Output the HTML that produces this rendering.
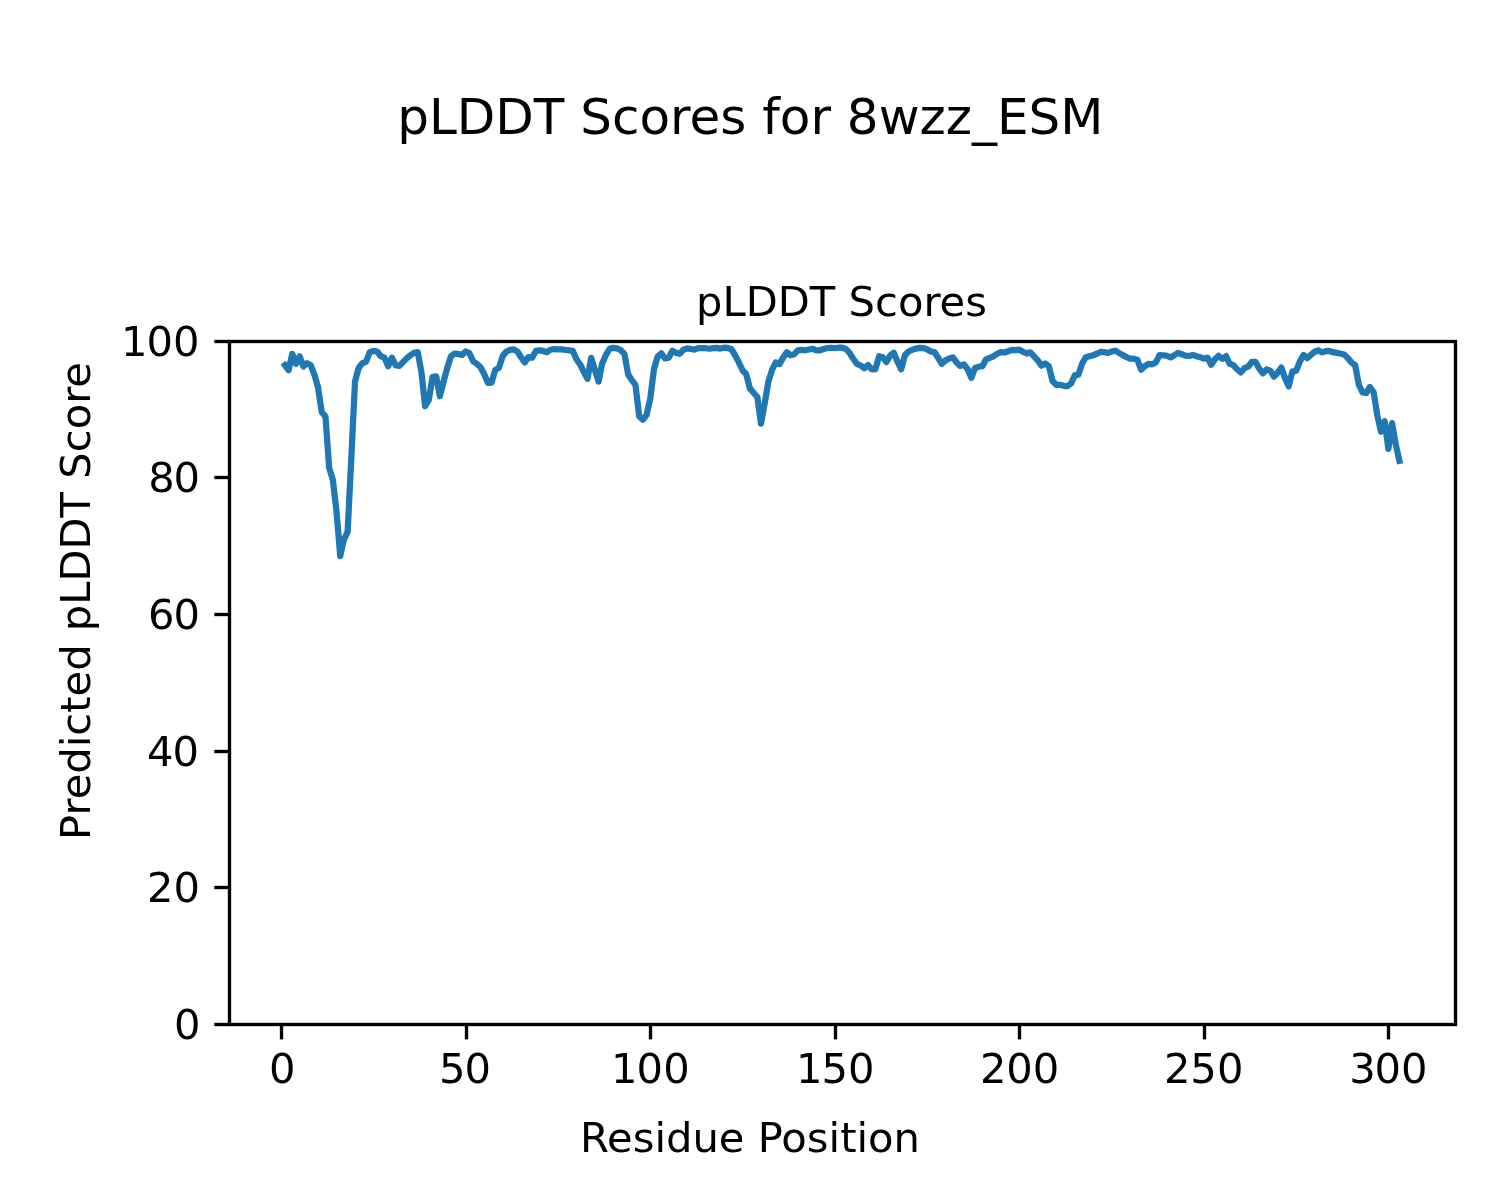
<!DOCTYPE html>
<html lang="en"><head><meta charset="utf-8"><title>pLDDT Scores for 8wzz_ESM</title>
<style>
html,body{margin:0;padding:0;background:#fff;}
body{width:1500px;height:1200px;overflow:hidden;}
svg{display:block;}
text{font-family:"DejaVu Sans","Liberation Sans",sans-serif;fill:#000;}
.t10{font-size:41.67px;}
.t12{font-size:50px;}
</style></head><body>
<svg width="1500" height="1200" viewBox="0 0 1500 1200">
<rect x="0" y="0" width="1500" height="1200" fill="#ffffff"/>

<g stroke="#000" stroke-width="3.333" fill="none">
<line x1="281.5" y1="1024.5" x2="281.5" y2="1039.4"/>
<line x1="466.5" y1="1024.5" x2="466.5" y2="1039.4"/>
<line x1="650.5" y1="1024.5" x2="650.5" y2="1039.4"/>
<line x1="835.5" y1="1024.5" x2="835.5" y2="1039.4"/>
<line x1="1019.5" y1="1024.5" x2="1019.5" y2="1039.4"/>
<line x1="1204.5" y1="1024.5" x2="1204.5" y2="1039.4"/>
<line x1="1388.5" y1="1024.5" x2="1388.5" y2="1039.4"/>
<line x1="229.5" y1="1024.5" x2="214.3" y2="1024.5"/>
<line x1="229.5" y1="887.5" x2="214.3" y2="887.5"/>
<line x1="229.5" y1="751.5" x2="214.3" y2="751.5"/>
<line x1="229.5" y1="614.5" x2="214.3" y2="614.5"/>
<line x1="229.5" y1="477.5" x2="214.3" y2="477.5"/>
<line x1="229.5" y1="341.5" x2="214.3" y2="341.5"/>
</g>
<g class="t10">
<text x="269.10" y="1082.7">0</text>
<text x="439.02 464.51" y="1082.7">50</text>
<text x="611.00 636.57 663.18" y="1082.7">100</text>
<text x="795.99 821.57 847.99" y="1082.7">150</text>
<text x="979.90 1006.31 1032.87" y="1082.7">200</text>
<text x="1163.88 1190.24 1216.97" y="1082.7">250</text>
<text x="1349.15 1374.55 1401.10" y="1082.7">300</text>
<text x="174.11" y="1039.1">0</text>
<text x="146.99 173.42" y="902.1">20</text>
<text x="147.11 172.52" y="766.1">40</text>
<text x="148.11 173.52" y="629.1">60</text>
<text x="148.13 173.60" y="492.1">80</text>
<text x="120.93 146.51 173.11" y="356.1">100</text>
</g>
<polyline points="284.88,365.15 288.57,370.28 292.26,353.89 295.95,363.79 299.64,356.28 303.33,366.52 307.02,363.11 310.71,365.15 314.41,374.72 318.10,387.69 321.79,412.28 325.48,416.38 329.17,467.95 332.86,479.90 336.55,512.00 340.24,556.05 343.93,539.32 347.62,531.81 351.31,458.04 355.00,381.55 358.69,367.89 362.38,363.11 366.07,361.74 369.76,352.18 373.45,350.81 377.15,351.50 380.84,356.28 384.53,357.64 388.22,366.18 391.91,357.64 395.60,365.15 399.29,365.84 402.98,362.08 406.67,358.33 410.36,355.25 414.05,352.86 417.74,352.18 421.43,371.99 425.12,406.13 428.81,399.99 432.50,377.11 436.20,376.42 439.89,396.23 443.58,381.55 447.27,367.89 450.96,356.28 454.65,353.54 458.34,353.89 462.03,354.91 465.72,351.50 469.41,353.20 473.10,361.26 476.79,363.79 480.48,367.20 484.17,374.03 487.86,382.91 491.55,382.57 495.24,369.94 498.94,367.89 502.63,356.28 506.32,351.50 510.01,349.79 513.70,349.45 517.39,351.50 521.08,357.23 524.77,362.42 528.46,357.10 532.15,357.64 535.84,350.95 539.53,350.33 543.22,350.95 546.91,352.18 550.60,349.72 554.29,349.04 557.99,349.31 561.68,349.45 565.37,349.92 569.06,350.27 572.75,350.81 576.44,359.28 580.13,364.47 583.82,371.99 587.51,378.81 591.20,357.85 594.89,369.94 598.58,381.55 602.27,363.24 605.96,354.91 609.65,348.76 613.34,347.88 617.03,348.35 620.73,350.13 624.42,353.89 628.11,374.24 631.80,380.18 635.49,384.83 639.18,416.24 642.87,419.66 646.56,415.01 650.25,398.76 653.94,369.25 657.63,356.62 661.32,353.34 665.01,358.46 668.70,357.64 672.39,350.81 676.08,352.86 679.77,353.75 683.47,349.72 687.16,348.35 690.85,348.97 694.54,349.72 698.23,348.22 701.92,348.01 705.61,348.22 709.30,348.76 712.99,348.08 716.68,347.88 720.37,348.56 724.06,347.74 727.75,347.94 731.44,349.24 735.13,355.25 738.82,362.42 742.51,370.28 746.21,374.24 749.90,388.38 753.59,392.75 757.28,396.78 760.97,423.62 764.66,403.74 768.35,381.75 772.04,369.94 775.73,362.42 779.42,364.13 783.11,357.64 786.80,352.18 790.49,355.25 794.18,354.23 797.87,350.27 801.56,349.92 805.26,350.27 808.95,349.45 812.64,348.76 816.33,350.27 820.02,350.27 823.71,348.97 827.40,348.08 831.09,347.74 834.78,348.22 838.47,347.74 842.16,347.74 845.85,348.97 849.54,352.86 853.23,358.73 856.92,363.79 860.61,365.50 864.30,368.23 868.00,365.15 871.69,369.25 875.38,369.25 879.07,356.28 882.76,357.23 886.45,362.08 890.14,355.59 893.83,352.86 897.52,361.74 901.21,369.25 904.90,355.25 908.59,351.50 912.28,349.72 915.97,348.56 919.66,347.88 923.35,348.08 927.04,349.24 930.74,351.50 934.43,352.04 938.12,357.78 941.81,363.79 945.50,360.37 949.19,358.53 952.88,357.37 956.57,362.42 960.26,365.84 963.95,364.47 967.64,369.25 971.33,377.86 975.02,367.89 978.71,366.79 982.40,366.18 986.09,359.28 989.79,357.78 993.48,356.28 997.17,353.75 1000.86,352.04 1004.55,352.52 1008.24,351.22 1011.93,349.92 1015.62,350.06 1019.31,349.72 1023.00,351.77 1026.69,353.54 1030.38,352.31 1034.07,356.28 1037.76,360.37 1041.45,365.63 1045.14,363.38 1048.83,366.25 1052.53,380.86 1056.22,384.96 1059.91,384.83 1063.60,385.78 1067.29,386.19 1070.98,383.73 1074.67,375.40 1078.36,374.72 1082.05,363.79 1085.74,357.23 1089.43,356.28 1093.12,355.32 1096.81,353.75 1100.50,351.97 1104.19,352.04 1107.88,352.93 1111.58,351.56 1115.27,350.68 1118.96,352.86 1122.65,354.91 1126.34,356.96 1130.03,358.73 1133.72,358.73 1137.41,359.69 1141.10,369.66 1144.79,366.25 1148.48,363.93 1152.17,364.27 1155.86,362.42 1159.55,355.05 1163.24,355.25 1166.93,355.93 1170.62,357.44 1174.32,355.25 1178.01,352.86 1181.70,354.23 1185.39,355.59 1189.08,355.93 1192.77,354.91 1196.46,356.28 1200.15,357.23 1203.84,358.73 1207.53,357.64 1211.22,364.81 1214.91,359.28 1218.60,355.87 1222.29,358.87 1225.98,356.14 1229.67,363.79 1233.36,365.15 1237.06,369.25 1240.75,372.46 1244.44,368.23 1248.13,366.73 1251.82,361.94 1255.51,361.94 1259.20,368.57 1262.89,373.35 1266.58,369.39 1270.27,370.62 1273.96,376.63 1277.65,372.74 1281.34,367.55 1285.03,378.13 1288.72,386.33 1292.41,371.30 1296.11,370.96 1299.80,361.74 1303.49,354.91 1307.18,358.12 1310.87,354.91 1314.56,351.77 1318.25,350.33 1321.94,352.38 1325.63,351.22 1329.32,350.95 1333.01,352.18 1336.70,352.86 1340.39,353.54 1344.08,354.57 1347.77,357.98 1351.46,362.56 1355.15,365.15 1358.85,384.76 1362.54,392.34 1366.23,393.02 1369.92,387.01 1373.61,392.34 1377.30,415.36 1380.99,431.75 1384.68,421.16 1388.37,448.82 1392.06,423.21 1395.75,444.38 1399.44,460.77" fill="none" stroke="#1f77b4" stroke-width="6.25" stroke-linejoin="round" stroke-linecap="square"/>
<rect x="229.5" y="341.5" width="1226.0" height="683.0" fill="none" stroke="#000" stroke-width="3.333"/>
<text class="t10" text-anchor="middle" x="841.5" y="316">pLDDT Scores</text>
<text class="t12" text-anchor="middle" x="750.35" y="134">pLDDT Scores for 8wzz_ESM</text>
<text class="t10" text-anchor="middle" x="750" y="1151.6">Residue Position</text>
<text class="t10" text-anchor="middle" transform="translate(89.5,601) rotate(-90)">Predicted pLDDT Score</text>
</svg></body></html>
